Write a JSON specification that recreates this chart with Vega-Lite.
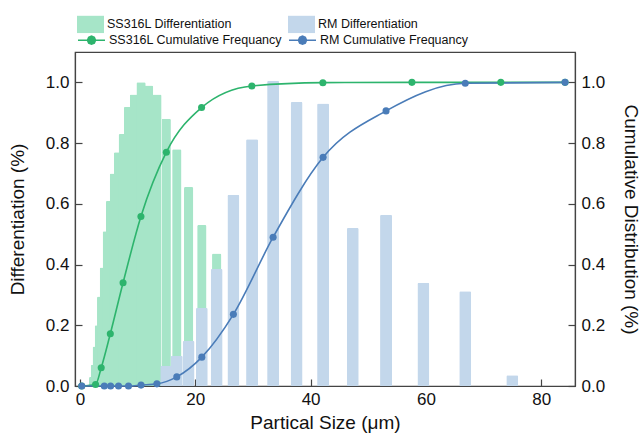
{
  "$schema": "https://vega.github.io/schema/vega-lite/v6.json",
  "width": 500,
  "height": 334,
  "autosize": {"type": "none"},
  "padding": {"left": 75, "top": 52, "right": 69, "bottom": 50},
  "background": "white",
  "config": {
    "font": "Liberation Sans",
    "view": {"stroke": "#444", "strokeWidth": 1.2},
    "axis": {
      "grid": false,
      "domainColor": "#444",
      "domainWidth": 1.2,
      "tickColor": "#444",
      "tickWidth": 1.2,
      "tickSize": -7,
      "labelFont": "Liberation Sans",
      "labelFontSize": 17,
      "labelColor": "#111",
      "titleFont": "Liberation Sans",
      "titleFontSize": 19,
      "titleFontWeight": "normal",
      "titleColor": "#111"
    },
    "legend": {
      "labelFont": "Liberation Sans",
      "labelFontSize": 12.5,
      "labelColor": "#111",
      "labelLimit": 400,
      "labelOffset": 3,
      "symbolSize": 729,
      "padding": 0,
      "title": null,
      "orient": "none",
      "direction": "horizontal",
      "columns": 2
    }
  },
  "data": {
    "values": [
      {"s": "SS316L Differentiation", "x": 2.371, "v": 0.03},
      {"s": "SS316L Differentiation", "x": 2.661, "v": 0.07},
      {"s": "SS316L Differentiation", "x": 2.985, "v": 0.13},
      {"s": "SS316L Differentiation", "x": 3.350, "v": 0.20},
      {"s": "SS316L Differentiation", "x": 3.758, "v": 0.295},
      {"s": "SS316L Differentiation", "x": 4.217, "v": 0.39},
      {"s": "SS316L Differentiation", "x": 4.732, "v": 0.51},
      {"s": "SS316L Differentiation", "x": 5.309, "v": 0.61},
      {"s": "SS316L Differentiation", "x": 5.957, "v": 0.70},
      {"s": "SS316L Differentiation", "x": 6.683, "v": 0.77},
      {"s": "SS316L Differentiation", "x": 7.499, "v": 0.83},
      {"s": "SS316L Differentiation", "x": 8.414, "v": 0.92},
      {"s": "SS316L Differentiation", "x": 9.441, "v": 0.96},
      {"s": "SS316L Differentiation", "x": 10.59, "v": 1.0},
      {"s": "SS316L Differentiation", "x": 11.89, "v": 0.99},
      {"s": "SS316L Differentiation", "x": 13.34, "v": 0.96},
      {"s": "SS316L Differentiation", "x": 14.96, "v": 0.88},
      {"s": "SS316L Differentiation", "x": 16.79, "v": 0.78},
      {"s": "SS316L Differentiation", "x": 18.84, "v": 0.655},
      {"s": "SS316L Differentiation", "x": 21.13, "v": 0.53},
      {"s": "SS316L Differentiation", "x": 23.71, "v": 0.436},
      {"s": "RM Differentiation", "x": 14.96, "v": 0.067},
      {"s": "RM Differentiation", "x": 16.79, "v": 0.10},
      {"s": "RM Differentiation", "x": 18.84, "v": 0.148},
      {"s": "RM Differentiation", "x": 21.13, "v": 0.257},
      {"s": "RM Differentiation", "x": 23.71, "v": 0.385},
      {"s": "RM Differentiation", "x": 26.61, "v": 0.63},
      {"s": "RM Differentiation", "x": 29.85, "v": 0.813},
      {"s": "RM Differentiation", "x": 33.50, "v": 1.005},
      {"s": "RM Differentiation", "x": 37.58, "v": 0.935},
      {"s": "RM Differentiation", "x": 42.17, "v": 0.93},
      {"s": "RM Differentiation", "x": 47.32, "v": 0.52},
      {"s": "RM Differentiation", "x": 53.09, "v": 0.564},
      {"s": "RM Differentiation", "x": 59.57, "v": 0.34},
      {"s": "RM Differentiation", "x": 66.83, "v": 0.312},
      {"s": "RM Differentiation", "x": 74.99, "v": 0.035},
      {"s": "SS316L Cumulative Frequancy", "x": 0.3, "v": 0.0},
      {"s": "SS316L Cumulative Frequancy", "x": 2.7, "v": 0.005},
      {"s": "SS316L Cumulative Frequancy", "x": 3.68, "v": 0.06},
      {"s": "SS316L Cumulative Frequancy", "x": 5.26, "v": 0.172},
      {"s": "SS316L Cumulative Frequancy", "x": 7.47, "v": 0.34},
      {"s": "SS316L Cumulative Frequancy", "x": 10.57, "v": 0.558},
      {"s": "SS316L Cumulative Frequancy", "x": 14.98, "v": 0.77},
      {"s": "SS316L Cumulative Frequancy", "x": 21.09, "v": 0.917},
      {"s": "SS316L Cumulative Frequancy", "x": 29.81, "v": 0.988},
      {"s": "SS316L Cumulative Frequancy", "x": 42.13, "v": 0.999},
      {"s": "SS316L Cumulative Frequancy", "x": 57.58, "v": 1.0},
      {"s": "SS316L Cumulative Frequancy", "x": 73.0, "v": 1.0},
      {"s": "SS316L Cumulative Frequancy", "x": 84.14, "v": 1.0},
      {"s": "RM Cumulative Frequancy", "x": 0.3, "v": 0.0},
      {"s": "RM Cumulative Frequancy", "x": 4.217, "v": 0.0},
      {"s": "RM Cumulative Frequancy", "x": 5.309, "v": 0.0},
      {"s": "RM Cumulative Frequancy", "x": 6.683, "v": 0.0},
      {"s": "RM Cumulative Frequancy", "x": 8.414, "v": 0.0},
      {"s": "RM Cumulative Frequancy", "x": 10.59, "v": 0.003},
      {"s": "RM Cumulative Frequancy", "x": 13.34, "v": 0.007},
      {"s": "RM Cumulative Frequancy", "x": 16.79, "v": 0.03},
      {"s": "RM Cumulative Frequancy", "x": 21.13, "v": 0.095},
      {"s": "RM Cumulative Frequancy", "x": 26.61, "v": 0.236},
      {"s": "RM Cumulative Frequancy", "x": 33.50, "v": 0.49},
      {"s": "RM Cumulative Frequancy", "x": 42.17, "v": 0.753},
      {"s": "RM Cumulative Frequancy", "x": 53.09, "v": 0.906},
      {"s": "RM Cumulative Frequancy", "x": 66.83, "v": 0.997},
      {"s": "RM Cumulative Frequancy", "x": 84.14, "v": 1.0}
    ]
  },
  "layer": [
    {
      "layer": [
        {
          "transform": [{"filter": "datum.s == 'SS316L Differentiation'"}],
          "mark": {"type": "bar", "size": 9.3, "cornerRadiusEnd": 1.5},
          "encoding": {
            "x": {"field": "x", "type": "quantitative", "scale": {"domain": [0, 85], "nice": false, "zero": false},
                  "axis": {"values": [0, 20, 40, 60, 80], "title": "Partical Size (μm)", "labelPadding": 12, "titlePadding": 6, "labelFlush": false}},
            "y": {"field": "v", "type": "quantitative", "scale": {"domain": [0, 1.1], "nice": false},
                  "axis": {"values": [0, 0.2, 0.4, 0.6, 0.8, 1.0], "format": ".1f", "title": "Differentiation (%)", "labelPadding": 13, "titlePadding": 18, "orient": "left"}},
            "fill": {"field": "s", "type": "nominal",
              "scale": {"domain": ["SS316L Differentiation", "RM Differentiation"], "range": ["#a6e5c8", "#c3d7eb"]},
              "legend": {
                "legendX": 2, "legendY": -41.5, "columnPadding": 56,
                "symbolType": "M-1,-0.64H1V0.64H-1Z", "symbolStrokeWidth": 0
              }
            }
          }
        },
        {
          "transform": [{"filter": "datum.s == 'RM Differentiation'"}],
          "mark": {"type": "bar", "size": 12, "cornerRadiusEnd": 1.5},
          "encoding": {
            "x": {"field": "x", "type": "quantitative"},
            "y": {"field": "v", "type": "quantitative"},
            "fill": {"field": "s", "type": "nominal"}
          }
        }
      ]
    },
    {
      "transform": [{"filter": "indexof(datum.s, 'Cumulative') >= 0"}],
      "encoding": {
        "x": {"field": "x", "type": "quantitative"},
        "y": {"field": "v", "type": "quantitative", "scale": {"domain": [0, 1.1], "nice": false},
              "axis": {"values": [0, 0.2, 0.4, 0.6, 0.8, 1.0], "format": ".1f", "title": "Cumulative Distribution (%)", "orient": "right", "labelPadding": 13, "titlePadding": 16}},
        "color": {"field": "s", "type": "nominal",
          "scale": {"domain": ["SS316L Cumulative Frequancy", "RM Cumulative Frequancy"], "range": ["#2db46d", "#4a7cb8"]},
          "legend": {
            "legendX": 2, "legendY": -26.5, "columnPadding": 3,
            "symbolType": "M-1,0H1M0.3,0L0.21,0.21L0,0.3L-0.21,0.21L-0.3,0L-0.21,-0.21L0,-0.3L0.21,-0.21Z",
            "symbolStrokeWidth": 1.5
          }
        }
      },
      "layer": [
        {"mark": {"type": "line", "interpolate": "monotone", "strokeWidth": 1.6}},
        {"mark": {"type": "point", "filled": true, "size": 50, "opacity": 1}}
      ]
    }
  ],
  "resolve": {"scale": {"y": "independent"}}
}
